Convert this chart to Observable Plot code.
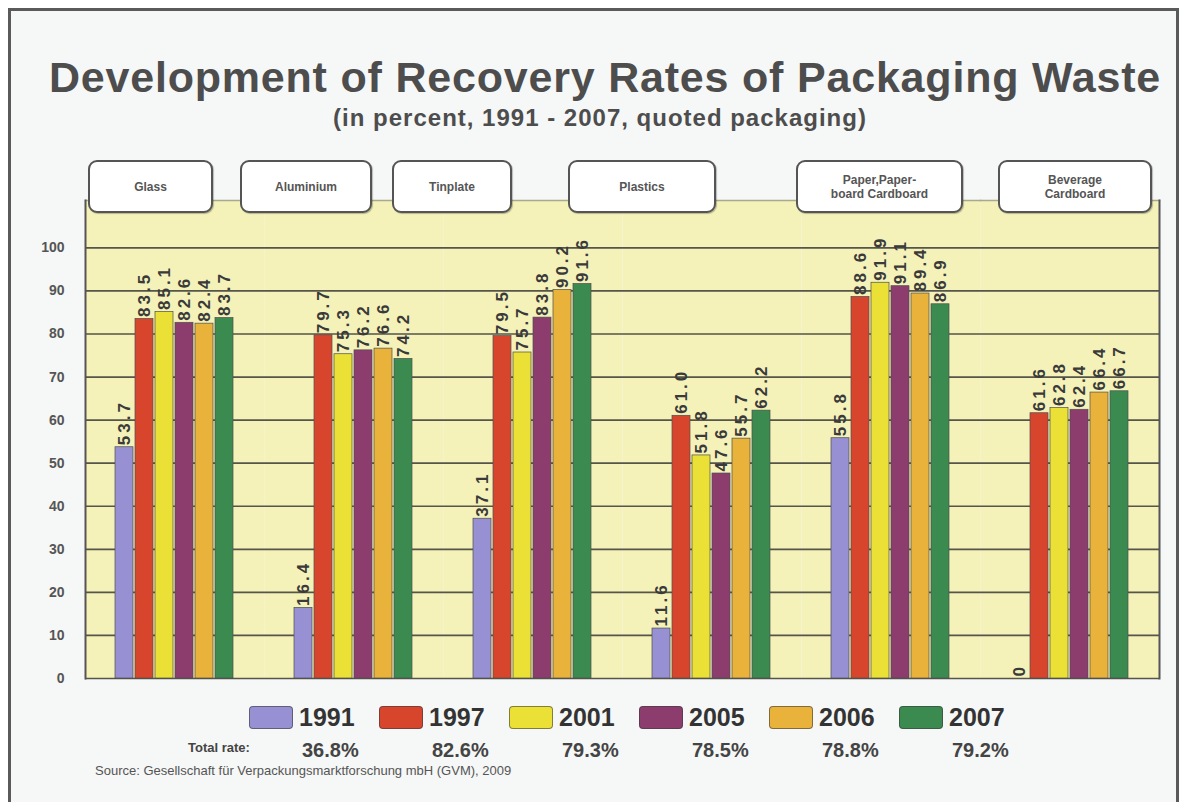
<!DOCTYPE html>
<html>
<head>
<meta charset="utf-8">
<script src="https://cdn.jsdelivr.net/npm/d3@7"></script>
<script src="https://cdn.jsdelivr.net/npm/@observablehq/plot@0.6"></script>
<style>
  html, body { margin: 0; padding: 0; width: 1184px; height: 802px; overflow: hidden; background: #ffffff; }
  body { position: relative; font-family: "Liberation Sans", Arial, sans-serif; color: #4a4a4a; }
  #frame { position: absolute; left: 8px; top: 8px; width: 1165px; height: 840px; border: 3px solid #5a5a5a; background: #f6f7f7; }
  #title { position: absolute; left: 45px; width: 1120px; top: 56px; text-align: center; font-size: 43px; line-height: 43px; font-weight: bold; letter-spacing: 0.8px; color: #4d4d4d; white-space: nowrap; }
  #subtitle { position: absolute; left: 300px; width: 600px; top: 106px; text-align: center; font-size: 24px; line-height: 24px; font-weight: bold; letter-spacing: 1px; color: #4d4d4d; white-space: nowrap; }
  #boxes { position: absolute; left: 88px; width: 1064px; top: 160px; height: 53px; z-index: 3; }
  .box { position: absolute; top: 0; box-sizing: border-box; height: 53px; background: #ffffff; border: 2px solid #555; border-radius: 9px; display: flex; align-items: center; justify-content: center; text-align: center; font-size: 12px; line-height: 14px; font-weight: bold; color: #555; white-space: pre; box-shadow: 1px 1px 1px rgba(0,0,0,0.25); }
  .box:nth-child(1) { left: 0px;   width: 125px; }
  .box:nth-child(2) { left: 152px; width: 132px; }
  .box:nth-child(3) { left: 304px; width: 120px; }
  .box:nth-child(4) { left: 480px; width: 148px; }
  .box:nth-child(5) { left: 708px; width: 167px; }
  .box:nth-child(6) { left: 910px; width: 154px; }
  #chart { position: absolute; left: 0; top: 190px; z-index: 1; }
  #chart g[aria-label="text"] text { letter-spacing: 3px; }
  #legend { position: absolute; left: 249px; top: 704px; display: flex; z-index: 2; }
  .item { width: 130px; }
  .row1 { display: flex; align-items: center; height: 26px; }
  .sw { width: 44px; height: 23px; border-radius: 4px; border: 1px solid rgba(60,60,60,0.6); box-sizing: border-box; margin-right: 6px; }
  .yr { font-family: "Liberation Sans Narrow", "Arial Narrow", "Liberation Sans", sans-serif; font-weight: bold; font-size: 25px; line-height: 26px; color: #333; }
  .tot { padding-left: 53px; margin-top: 9px; font-family: "Liberation Sans Narrow", "Arial Narrow", "Liberation Sans", sans-serif; font-weight: bold; font-size: 20px; line-height: 22px; color: #444; }
  #totlabel { position: absolute; left: 188px; top: 740px; font-size: 13px; line-height: 16px; font-weight: bold; color: #444; }
  #source { position: absolute; left: 95px; top: 763px; font-size: 13px; line-height: 16px; color: #555; }
</style>
</head>
<body>
<div id="frame"></div>
<div id="title">Development of Recovery Rates of Packaging Waste</div>
<div id="subtitle">(in percent, 1991 - 2007, quoted packaging)</div>
<div id="boxes"></div>
<div id="chart"></div>
<div id="legend"></div>
<div id="totlabel">Total rate:</div>
<div id="source">Source: Gesellschaft für Verpackungsmarktforschung mbH (GVM), 2009</div>
<script>
// ---- data ----
const categories = ["Glass", "Aluminium", "Tinplate", "Plastics", "Paper,Paper-\nboard Cardboard", "Beverage\nCardboard"];
const years = ["1991", "1997", "2001", "2005", "2006", "2007"];
const glass     = [53.7, 83.5, 85.1, 82.6, 82.4, 83.7];
const aluminium = [16.4, 79.7, 75.3, 76.2, 76.6, 74.2];
const tinplate  = [37.1, 79.5, 75.7, 83.8, 90.2, 91.6];
const plastics  = [11.6, 61.0, 51.8, 47.6, 55.7, 62.2];
const paper     = [55.8, 88.6, 91.9, 91.1, 89.4, 86.9];
const beverage  = [0,    61.6, 62.8, 62.4, 66.4, 66.7];
const totalRates = ["36.8%", "82.6%", "79.3%", "78.5%", "78.8%", "79.2%"];
const yTicks = [0, 10, 20, 30, 40, 50, 60, 70, 80, 90, 100];
const colors = ["#9791d3", "#d8452d", "#ebe136", "#8d3c6e", "#e9b23b", "#3b8a50"];

const series = [glass, aluminium, tinplate, plastics, paper, beverage];
const data = categories.flatMap((c, i) => years.map((y, j) => ({cat: c, year: y, value: series[i][j]})));

// ---- category header boxes ----
const boxes = document.getElementById("boxes");
categories.forEach(c => {
  const b = document.createElement("div");
  b.className = "box";
  b.textContent = c;
  boxes.appendChild(b);
});

// ---- chart ----
const first = categories[0];
const last = categories[categories.length - 1];
const chart = Plot.plot({
  width: 1165,
  height: 498,
  marginLeft: 83,
  marginRight: 5,
  marginTop: 10,
  marginBottom: 10,
  style: {fontFamily: "'Liberation Sans', Arial, sans-serif", background: "transparent", overflow: "visible"},
  fx: {domain: categories, padding: 0, axis: null},
  x: {domain: years, paddingInner: 0.08, paddingOuter: 1.42, axis: null},
  y: {domain: [0, 111]},
  color: {domain: years, range: colors},
  marks: [
    Plot.frame({fill: "#f4f2b9", stroke: null}),
    Plot.frame({anchor: "top", stroke: "#a9a98f", strokeWidth: 1.5}),
    Plot.ruleY(yTicks, {stroke: "#55554a", strokeWidth: 1.7}),
    Plot.frame({anchor: "left", fx: () => first, stroke: "#555", strokeWidth: 2}),
    Plot.frame({anchor: "right", fx: () => last, stroke: "#555", strokeWidth: 2}),
    Plot.axisY({anchor: "left", ticks: yTicks, tickSize: 0, tickPadding: 21, label: null, fontSize: 14, fontWeight: "bold", fill: "#555", tickFormat: d => String(d)}),
    Plot.barY(data, {fx: "cat", x: "year", y: "value", fill: "year", stroke: "#4d4d4d", strokeWidth: 0.7}),
    Plot.text(data, {fx: "cat", x: "year", y: "value", text: d => d.value === 0 ? "0" : d.value.toFixed(1),
      rotate: -90, textAnchor: "start", lineAnchor: "middle", dy: -2, fontSize: 17, fontWeight: "bold", fill: "#3a3a3a"})
  ]
});
document.getElementById("chart").appendChild(chart);

// ---- legend ----
const legend = document.getElementById("legend");
years.forEach((y, i) => {
  const item = document.createElement("div");
  item.className = "item";
  const r1 = document.createElement("div");
  r1.className = "row1";
  const sw = document.createElement("div");
  sw.className = "sw";
  sw.style.background = colors[i];
  const t = document.createElement("span");
  t.className = "yr";
  t.textContent = y;
  r1.appendChild(sw); r1.appendChild(t);
  const tot = document.createElement("div");
  tot.className = "tot";
  tot.textContent = totalRates[i];
  item.appendChild(r1); item.appendChild(tot);
  legend.appendChild(item);
});
</script>
</body>
</html>
